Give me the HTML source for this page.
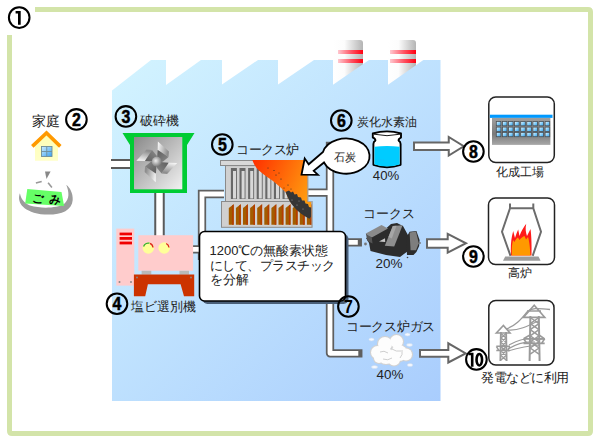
<!DOCTYPE html>
<html><head><meta charset="utf-8">
<style>
html,body{margin:0;padding:0;background:#fff;}
body{width:600px;height:443px;position:relative;overflow:hidden;font-family:"Liberation Sans",sans-serif;color:#222;}
svg{position:absolute;left:0;top:0;}
.t{position:absolute;font-size:13px;line-height:13px;white-space:nowrap;}
</style></head><body>
<svg width="600" height="443" viewBox="0 0 600 443">
<defs>
<linearGradient id="fac" x1="112" y1="60" x2="441" y2="401" gradientUnits="userSpaceOnUse">
<stop offset="0" stop-color="#d3f4ff"/><stop offset="1" stop-color="#a9cdfd"/></linearGradient>
<linearGradient id="chim" x1="0" y1="0" x2="1" y2="0">
<stop offset="0" stop-color="#fff"/><stop offset="0.38" stop-color="#fcfcfc"/><stop offset="1" stop-color="#b4b4b4"/></linearGradient>
<linearGradient id="stripe" x1="0" y1="0" x2="1" y2="0">
<stop offset="0" stop-color="#ffc8d0"/><stop offset="0.55" stop-color="#ff5060"/><stop offset="1" stop-color="#ff0010"/></linearGradient>
<linearGradient id="crg" x1="0" y1="0" x2="1" y2="1">
<stop offset="0" stop-color="#8a8a8a"/><stop offset="1" stop-color="#f2f2f2"/></linearGradient>
<linearGradient id="bladeL" x1="0" y1="0" x2="1" y2="0.3">
<stop offset="0" stop-color="#ffffff"/><stop offset="1" stop-color="#8e8e8e"/></linearGradient>
<linearGradient id="bladeD" x1="0" y1="0" x2="1" y2="1">
<stop offset="0" stop-color="#5c5c5c"/><stop offset="1" stop-color="#8a8a8a"/></linearGradient>
<radialGradient id="ball" cx="0.4" cy="0.4" r="0.6">
<stop offset="0" stop-color="#eee"/><stop offset="1" stop-color="#777"/></radialGradient>
<linearGradient id="fire" x1="253" y1="165" x2="311" y2="190" gradientUnits="userSpaceOnUse">
<stop offset="0" stop-color="#ff3300"/><stop offset="1" stop-color="#ff9c10"/></linearGradient>
<linearGradient id="bldg" x1="0" y1="0" x2="0" y2="1">
<stop offset="0" stop-color="#a0a0a0"/><stop offset="0.6" stop-color="#7a7a7a"/><stop offset="1" stop-color="#a8a8a8"/></linearGradient>
<linearGradient id="win" x1="0" y1="0" x2="1" y2="1">
<stop offset="0" stop-color="#cfefff"/><stop offset="1" stop-color="#3aa0f0"/></linearGradient>
<linearGradient id="house" x1="0" y1="0" x2="0" y2="1">
<stop offset="0" stop-color="#ffffb4"/><stop offset="1" stop-color="#ffffc8"/></linearGradient>
<linearGradient id="win2" x1="0" y1="0" x2="1" y2="1">
<stop offset="0" stop-color="#f0fbff"/><stop offset="0.45" stop-color="#8fd2fa"/><stop offset="1" stop-color="#2aa0ee"/></linearGradient>
</defs>
<!-- border -->
<path d="M35 9.5 H588 Q590.5 9.5 590.5 12 V431 Q590.5 433.5 588 433.5 H12 Q9.5 433.5 9.5 431 V35" fill="none" stroke="#d3e4a9" stroke-width="5"/>
<!-- chimneys -->
<path d="M333 40 H360 Q363 40 363 43 V90 H333 Z" fill="url(#chim)"/>
<rect x="338" y="50" width="25" height="4" fill="url(#stripe)"/>
<rect x="338" y="59" width="25" height="4" fill="url(#stripe)"/>
<path d="M388 40 H413 Q416 40 416 43 V90 H388 Z" fill="url(#chim)"/>
<rect x="390" y="50" width="26" height="4" fill="url(#stripe)"/>
<rect x="390" y="59" width="26" height="4" fill="url(#stripe)"/>
<!-- factory -->
<path d="M112 90.5 L151 60 H166 V85 L201 60 H222 V84.5 L258 60 H278 V84.5 L314 60 H333 V84.7 L369 60 H388 V84.7 L423.4 60 H440.5 V401 H112 Z" fill="url(#fac)"/>

<!-- pipes -->
<g fill="none" stroke-linejoin="miter" stroke-linecap="butt">
<path d="M111 164 H131" stroke="#5a5a5a" stroke-width="10"/>
<path d="M111 164 H131" stroke="#fff" stroke-width="6"/>
<path d="M159.5 190 V237" stroke="#5a5a5a" stroke-width="10.5"/>
<path d="M159.5 190 V237" stroke="#fff" stroke-width="6.5"/>
<path d="M224 194 H202 V260 M192 249.4 H202" stroke="#5f5f5f" stroke-width="8.3"/>
<path d="M224 194 H202 V260 M192 249.4 H202" stroke="#fff" stroke-width="4.8"/>
</g>
<g fill="none" stroke-linejoin="round">
<path d="M306 192.7 H330 M330 146 V353.3 H358.3 M340 242.4 H357.8" stroke="#5f5f5f" stroke-width="8.3" stroke-linecap="square"/>
<path d="M306 192.7 H330 M330 146 V353.3 H358.3 M340 242.4 H357.8" stroke="#fff" stroke-width="4.8" stroke-linecap="butt"/>
</g>

<!-- house -->
<path d="M35 143 L46.5 133 L58 143 V160.7 H35 Z" fill="url(#house)"/>
<path d="M32.3 146.4 L46.5 132.9 L60.3 146.4" fill="none" stroke="#ff9900" stroke-width="3.6"/>
<rect x="41.5" y="146.5" width="10.5" height="10" fill="url(#win)" stroke="#6f8e98" stroke-width="0.9"/>
<path d="M46.75 146.5 V156.5 M41.5 151.5 H52" stroke="#6f8e98" stroke-width="0.9"/>

<!-- garbage bag -->
<path d="M19.9 193.3 C17 201 21 211 40.7 214.2 C58 216 72 212 72.7 200 C73 193 70 188 66.3 184.8 C69 192 70 199 64 204 C57 208 42 209 30 205.5 C24 203 21 199 19.9 193.3 Z" fill="#9c9c9c"/>
<path d="M45 171.5 L50.6 171.5 L46.5 179 Z" fill="#888"/>
<path d="M35.9 183 L41.7 181.4 M48.1 182.7 L51.9 187.5" stroke="#999" stroke-width="1.6" fill="none"/>
<path d="M27.3 189.1 L61.5 192 L64.1 206.1 L25.2 203.5 Z" fill="#66ff66"/>
<!-- crusher -->
<path d="M122.5 133 H194.5 L187 145 V193 H130 V145 Z" fill="#00cc33"/>
<rect x="134" y="137" width="48.3" height="52.3" fill="url(#crg)"/>
<g transform="translate(156.8 161.8)">
<g id="bl"><path d="M1.1 -20.4 L12.2 -10.3 L11.7 -4.8 L0.9 -11.8 Z" fill="url(#bladeL)"/><path d="M0.9 -11.8 L11.7 -4.8 L6 0 L0 0 Z" fill="url(#bladeD)"/></g>
<use href="#bl" transform="rotate(90)"/>
<use href="#bl" transform="rotate(180)"/>
<use href="#bl" transform="rotate(270)"/>
<circle r="5" fill="url(#ball)"/>
</g>

<!-- PVC sorter -->
<rect x="116.3" y="228.6" width="18" height="57" fill="#ffcccc"/>
<rect x="119.6" y="232.6" width="12.4" height="2.7" fill="#f00000"/>
<rect x="119.6" y="237" width="12.4" height="2.8" fill="#f00000"/>
<rect x="119.6" y="241.6" width="12.4" height="2.8" fill="#f00000"/>
<circle cx="119.5" cy="282" r="1" fill="#888"/><circle cx="131" cy="282" r="1" fill="#888"/>
<rect x="138.3" y="235.2" width="54.8" height="35.6" fill="#ffcccc"/>
<circle cx="148.3" cy="248" r="5.8" fill="#ffff99"/>
<circle cx="164.2" cy="248" r="5.8" fill="#ffff99"/>
<path d="M143.6 246.5 A5 5 0 0 1 149.5 243.2" stroke="#33aa33" stroke-width="1.3" fill="none"/>
<path d="M150 243.3 A5 5 0 0 1 153 247.5" stroke="#dd2222" stroke-width="1.3" fill="none"/>
<path d="M166.2 243.5 A5 5 0 0 1 169 247.5" stroke="#dd2222" stroke-width="1.3" fill="none"/>
<rect x="141.6" y="270.8" width="9.7" height="3.8" fill="#b8b8b8"/>
<rect x="179.5" y="270.8" width="9.5" height="3.8" fill="#b8b8b8"/>
<path d="M133.9 274.6 H194.2 V296.3 H184 L180.6 284.3 H147.9 L145.2 296.3 H133.9 Z" fill="#cc3300"/>
<circle cx="137" cy="277.5" r="0.9" fill="#888"/><circle cx="191" cy="277.5" r="0.9" fill="#888"/>

<!-- coke oven -->
<rect x="221.5" y="201.5" width="90.5" height="25.8" fill="#d0d0d0" stroke="#8a8a8a" stroke-width="1"/>
<rect x="225.5" y="165.6" width="82" height="35.9" fill="#d0d0d0" stroke="#8a8a8a" stroke-width="1"/>
<rect x="220.5" y="160.5" width="84" height="5" fill="#d8d8d8" stroke="#8a8a8a" stroke-width="1"/>
<g>
<rect x="230.9" y="168" width="6" height="31" fill="#686868"/><rect x="233.0" y="171" width="3" height="27.5" fill="#d8d8d8"/>
<rect x="239.5" y="168" width="6" height="31" fill="#686868"/><rect x="241.6" y="171" width="3" height="27.5" fill="#d8d8d8"/>
<rect x="248.1" y="168" width="6" height="31" fill="#686868"/><rect x="250.2" y="171" width="3" height="27.5" fill="#d8d8d8"/>
<rect x="256.7" y="168" width="6" height="31" fill="#686868"/><rect x="258.8" y="171" width="3" height="27.5" fill="#d8d8d8"/>
<rect x="265.3" y="168" width="6" height="31" fill="#686868"/><rect x="267.4" y="171" width="3" height="27.5" fill="#d8d8d8"/>
<rect x="273.9" y="168" width="6" height="31" fill="#686868"/><rect x="276.0" y="171" width="3" height="27.5" fill="#d8d8d8"/>
<rect x="282.5" y="168" width="6" height="31" fill="#686868"/><rect x="284.6" y="171" width="3" height="27.5" fill="#d8d8d8"/>
<rect x="291.1" y="168" width="6" height="31" fill="#686868"/><rect x="293.2" y="171" width="3" height="27.5" fill="#d8d8d8"/>
<rect x="299.7" y="168" width="6" height="31" fill="#686868"/><rect x="301.8" y="171" width="3" height="27.5" fill="#d8d8d8"/>
</g>
<g>
<path d="M228.8 208 L233.7 204.2 V224.8 H228.8 Z" fill="#a35c00"/><path d="M232.1 205.4 L233.7 204.2 V224.8 H232.1 Z" fill="#b53c00"/>
<path d="M235.9 208 L240.8 204.2 V224.8 H235.9 Z" fill="#a35c00"/><path d="M239.2 205.4 L240.8 204.2 V224.8 H239.2 Z" fill="#b53c00"/>
<path d="M243.0 208 L247.9 204.2 V224.8 H243.0 Z" fill="#a35c00"/><path d="M246.3 205.4 L247.9 204.2 V224.8 H246.3 Z" fill="#b53c00"/>
<path d="M250.1 208 L255.0 204.2 V224.8 H250.1 Z" fill="#a35c00"/><path d="M253.4 205.4 L255.0 204.2 V224.8 H253.4 Z" fill="#b53c00"/>
<path d="M257.2 208 L262.1 204.2 V224.8 H257.2 Z" fill="#a35c00"/><path d="M260.5 205.4 L262.1 204.2 V224.8 H260.5 Z" fill="#b53c00"/>
<path d="M264.3 208 L269.2 204.2 V224.8 H264.3 Z" fill="#a35c00"/><path d="M267.6 205.4 L269.2 204.2 V224.8 H267.6 Z" fill="#b53c00"/>
<path d="M271.4 208 L276.3 204.2 V224.8 H271.4 Z" fill="#a35c00"/><path d="M274.7 205.4 L276.3 204.2 V224.8 H274.7 Z" fill="#b53c00"/>
<path d="M278.5 208 L283.4 204.2 V224.8 H278.5 Z" fill="#a35c00"/><path d="M281.8 205.4 L283.4 204.2 V224.8 H281.8 Z" fill="#b53c00"/>
<path d="M285.6 208 L290.5 204.2 V224.8 H285.6 Z" fill="#a35c00"/><path d="M288.9 205.4 L290.5 204.2 V224.8 H288.9 Z" fill="#b53c00"/>
<path d="M292.7 208 L297.6 204.2 V224.8 H292.7 Z" fill="#a35c00"/><path d="M296.0 205.4 L297.6 204.2 V224.8 H296.0 Z" fill="#b53c00"/>
<path d="M299.8 208 L304.7 204.2 V224.8 H299.8 Z" fill="#a35c00"/><path d="M303.1 205.4 L304.7 204.2 V224.8 H303.1 Z" fill="#b53c00"/>
<path d="M306.9 208 L311.8 204.2 V224.8 H306.9 Z" fill="#a35c00"/><path d="M310.2 205.4 L311.8 204.2 V224.8 H310.2 Z" fill="#b53c00"/>
</g>
<path d="M252.4 160 H304.6 V165.6 H307.5 V201.8 H311.2 V216.5 L309 218 C303 214 296 209 291 203 C289 200 287 196 286 192.5 C283 189.5 279 186 273 181 C266 176 260 172 256.5 168 C255 166 254 164 253.1 161.9 Z" fill="url(#fire)"/>
<path d="M285.5 192 L289 190.5 L291 192.5 L293 191.5 L294.5 194.5 L297 194 L298 197 L301 197.5 L302 200.5 L304.5 200.5 L305.5 203.5 L308 204 L309 207 L311.2 207.5 V216.5 L309.5 218.8 C304 216 298 212 294 207 C290 203 288 198 285.5 192 Z" fill="#363636"/>
<path d="M308 166 V201.5 H312 V227.3" fill="none" stroke="#a8a8a8" stroke-width="1"/>
<g fill="#2a2a2a"><circle cx="274" cy="170.5" r="0.6"/><circle cx="276" cy="175" r="0.6"/><circle cx="279" cy="173" r="0.5"/><circle cx="281" cy="179" r="0.6"/><circle cx="288" cy="185" r="0.6"/><circle cx="284" cy="188" r="0.5"/><circle cx="291" cy="189" r="0.5"/><circle cx="268" cy="168" r="0.5"/></g>
<g fill="#9a9a9a"><circle cx="292" cy="200" r="0.6"/><circle cx="297" cy="205" r="0.6"/><circle cx="303" cy="209" r="0.6"/><circle cx="299" cy="201" r="0.5"/></g>

<!-- bubble + arrow -->
<path d="M323 152 A23.6 17.6 0 1 1 324 162.5 L313.7 170.8 L318 174.9 L301.5 174.7 L304.7 158.6 L308.7 164.3 Z" fill="#fff" stroke="#000" stroke-width="1.8" stroke-linejoin="miter"/>

<!-- jar -->
<path d="M372.8 133.5 Q387 129.3 401 133.5 V137.6 Q398.6 138.4 398.6 140.6 Q400.6 141.6 400.6 144 V164.8 Q387 169.6 373.4 164.8 V144 Q373.4 141.6 375.4 140.6 Q375.4 138.4 372.8 137.6 Z" fill="#fff" stroke="#000" stroke-width="1.9" stroke-linejoin="round"/>
<path d="M374.5 146.8 Q387 145.2 399.6 146.8 V164.4 Q387 168.6 374.4 164.4 Z" fill="#00ccff"/>
<path d="M374 134.2 Q387 137.2 400 134.2" fill="none" stroke="#000" stroke-width="0.9"/>
<path d="M377 149 H397 M378 160 H384" stroke="#33aaee" stroke-width="0.6" stroke-dasharray="1 1.5"/>

<!-- text box -->
<rect x="202.5" y="234" width="146" height="70" rx="5" fill="#4a5f78"/>
<rect x="199.5" y="231.5" width="146" height="69.5" rx="5" fill="#fff" stroke="#000" stroke-width="1.6"/>

<!-- coke lump -->
<g>
<path d="M366 238 L369 243 L370.5 251 L386 255 L400 257 L408 251 L409 237 L403 226 L397 223 L391 224 L386 228.5 L375 235 Z" fill="#2c2c2c"/>
<path d="M365.8 233.4 L381.5 225 L388 228.4 L371.8 237.6 Z" fill="#8a8a8a"/>
<path d="M365.8 233.4 L371.8 237.6 L372.5 243.5 L367.5 241 Z" fill="#555"/>
<path d="M384.8 245.8 L392.8 226 L402.6 225.2 L394.2 246.6 Z" fill="#8e8e8e"/>
<path d="M388.5 237 L392.8 226 L396.5 225.7 L391.8 238.5 Z" fill="#a6a6a6"/>
<path d="M379 241.5 L385 238.3 L385.2 242 Z" fill="#c8c8c8"/>
<path d="M406 238 L409.6 231.8 L416.4 231 L419.6 240 L419.2 246 L416.4 252 L413.5 255 L407 255 Z" fill="#2c2c2c"/>
<path d="M409.6 232.4 L416 231.4 L418.8 243.2 L416 250.2 L410.6 250.2 Z" fill="#7e7e7e"/>
<circle cx="365.5" cy="244" r="1.4" fill="#777"/>
<circle cx="420" cy="243" r="0.9" fill="#777"/>
<circle cx="407.5" cy="257.5" r="0.8" fill="#444"/>
</g>

<!-- cloud -->
<g fill="#d2d2d2"><circle cx="396.5" cy="341.5" r="7.6"/><circle cx="385" cy="344" r="8.1"/><circle cx="377.5" cy="352.5" r="7.6"/><circle cx="386" cy="356" r="9.1"/><circle cx="399" cy="353" r="9.1"/><circle cx="406" cy="354.5" r="7.1"/><circle cx="394" cy="359.5" r="7.1"/><circle cx="379" cy="358" r="6.1"/></g>
<g fill="#fdfdfd"><circle cx="396.5" cy="341.5" r="6.5"/><circle cx="385" cy="344" r="7"/><circle cx="377.5" cy="352.5" r="6.5"/><circle cx="386" cy="356" r="8"/><circle cx="399" cy="353" r="8"/><circle cx="406" cy="354.5" r="6"/><circle cx="394" cy="359.5" r="6"/><circle cx="379" cy="358" r="5"/></g>
<path d="M380 352 Q384 350 388 353 M392 349 Q396 352 401 351 M383 359 Q388 361 392 358 M400 358 Q403 355 402 350" fill="none" stroke="#c8c8c8" stroke-width="0.9"/>
<g fill="#f4f8ff" stroke="#d0ddee" stroke-width="0.6"><ellipse cx="371.5" cy="339.5" rx="2.6" ry="1.4"/><ellipse cx="407.5" cy="334.5" rx="2.6" ry="1.5"/><ellipse cx="409.5" cy="345" rx="3" ry="1.4"/><ellipse cx="374.5" cy="367" rx="3" ry="1.5"/><ellipse cx="410" cy="365" rx="2.8" ry="1.5"/></g>

<!-- arrows -->
<g fill="#fff" stroke="#666" stroke-width="2" stroke-linejoin="miter">
<path d="M414 142.5 H448.75 V137 L463.75 146.25 L448.75 155.5 V150 H414 Z"/>
<path d="M427 239.2 H447.7 V233.8 L466 243.25 L447.7 252.7 V247.75 H427 Z"/>
<path d="M420 350 H448.3 V343.3 L465.7 353.5 L448.3 362.5 V356.7 H420 Z"/>
</g>

<!-- icon boxes -->
<g fill="#fff" stroke="#222" stroke-width="1.5">
<rect x="488.8" y="97" width="65.5" height="65.5" rx="7"/>
<rect x="488.5" y="198" width="66" height="66.5" rx="7"/>
<rect x="488.8" y="300.5" width="65.2" height="64.6" rx="7"/>
</g>
<!-- chemical plant -->
<rect x="489.9" y="114.7" width="62.6" height="3.2" fill="#0099ff"/>
<rect x="492" y="117.9" width="58.4" height="27" fill="url(#bldg)"/>
<g id="winrow">
<rect x="496.3" y="121.5" width="4.6" height="4.3" fill="url(#win2)" stroke="#4a5258" stroke-width="0.8"/>
<rect x="502.4" y="121.5" width="4.6" height="4.3" fill="url(#win2)" stroke="#4a5258" stroke-width="0.8"/>
<rect x="508.5" y="121.5" width="4.6" height="4.3" fill="url(#win2)" stroke="#4a5258" stroke-width="0.8"/>
<rect x="514.6" y="121.5" width="4.6" height="4.3" fill="url(#win2)" stroke="#4a5258" stroke-width="0.8"/>
<rect x="520.7" y="121.5" width="4.6" height="4.3" fill="url(#win2)" stroke="#4a5258" stroke-width="0.8"/>
<rect x="526.8" y="121.5" width="4.6" height="4.3" fill="url(#win2)" stroke="#4a5258" stroke-width="0.8"/>
<rect x="532.9" y="121.5" width="4.6" height="4.3" fill="url(#win2)" stroke="#4a5258" stroke-width="0.8"/>
<rect x="539.0" y="121.5" width="4.6" height="4.3" fill="url(#win2)" stroke="#4a5258" stroke-width="0.8"/>
<rect x="545.1" y="121.5" width="4.6" height="4.3" fill="url(#win2)" stroke="#4a5258" stroke-width="0.8"/>
</g>
<use href="#winrow" y="5.6"/>
<use href="#winrow" y="10.9"/>

<!-- blast furnace -->
<path d="M510 203.6 V208.2 H533.3 V203.6 M510 208.2 L502 231.8 L510.5 255.8 M533.3 208.2 L541 231.8 L532.7 255.8" fill="none" stroke="#6c6c6c" stroke-width="2"/>
<path d="M505.2 256.4 H538.5 L540.6 260.7 H503 Z" fill="#9c9c9c"/>
<path d="M511 255.6 C510.5 248 511 241 512 236 L513.2 231 L515 238 C516 235 517 232 518.2 229.6 L519.5 236 C521 231 524 227 526.2 223.8 C525 229 526 233 527 236 L528.5 233 L530.5 228.9 C531.5 236 531.8 246 531.5 255.6 Z" fill="#ff1a1a"/>
<path d="M511.8 255.6 C511.5 249 512 244 513 240 L514.5 242 C515.5 239.5 517 238 518 237.5 L519.5 240 C521 238 523 236.5 524.5 236 L526 239.5 L528 237 C529 240 530 246 530.5 255.6 Z" fill="#ff9900"/>

<!-- pylons -->
<g fill="none" stroke="#9a9a9a" stroke-linejoin="miter">
<path d="M529.6 361 L530.4 316 M538.8 316 L539.6 361" stroke-width="2"/>
<path d="M523.5 317.3 L534.2 305.2 L544.7 317.3 Z M527 311 H541" stroke-width="1.7"/>
<path d="M523.5 338.8 H544.7 M523.5 343.4 H544.7 M523.5 338.8 L527 343.4 M544.7 338.8 L541.5 343.4 M530 335 L523.5 338.8 M539 335 L544.7 338.8" stroke-width="1.6"/>
<path d="M530.2 317.5 L539 323.6 M539 317.5 L530.2 323.6 M530.2 323.6 L539 329.7 M539 323.6 L530.2 329.7 M530.2 329.7 L539 335.8 M539 329.7 L530.2 335.8 M530.2 335.8 L539 341.9 M539 335.8 L530.2 341.9 M530.2 341.9 L539 348.0 M539 341.9 L530.2 348.0 M530.2 348.0 L539 354.1 M539 348.0 L530.2 354.1 " stroke-width="1.5"/>
<path d="M500.4 361 L500.9 332 M506.1 332 L506.6 361" stroke-width="1.9"/>
<path d="M496.3 333 L503.4 325.5 L510 333 Z" stroke-width="1.6"/>
<path d="M496.3 346.3 H510 M496.3 350.6 H510 M496.3 346.3 L499 350.6 M510 346.3 L507.5 350.6" stroke-width="1.5"/>
<path d="M501 333.5 L506 337.9 M506 333.5 L501 337.9 M501 337.9 L506 342.3 M506 337.9 L501 342.3 M501 342.3 L506 346.7 M506 342.3 L501 346.7 M501 346.7 L506 351.1 M506 346.7 L501 351.1 M501 351.1 L506 355.5 M506 351.1 L501 355.5 M501 355.5 L506 359.9 M506 355.5 L501 359.9 " stroke-width="1.3"/>
<path d="M506 329 C516 326 522 318 527 312 C531 308 537 308 550 309.5" stroke-width="1.3"/>
<path d="M508 330 C518 331 528 326 538 321" stroke-width="1.1"/>
<path d="M509 345 C515 342 520 339 527 339 C533 339 538 340 545 339" stroke-width="1.1"/>
<path d="M508 349 C516 344 524 341 535 342" stroke-width="1.1"/>
<path d="M508 351 C518 348 526 346 540 345" stroke-width="1.1"/>
</g>

<!-- circled numbers -->
<path d="M468.6 352.8 H473.5 V366.7 H470.9 V355.3 H468.6 Z" fill="#000"/>
<ellipse cx="479.3" cy="359.7" rx="2.75" ry="5.75" fill="none" stroke="#000" stroke-width="2.6"/>
<path d="M15.6 10.9 H20.7 V24.7 H18 V13.4 H15.6 Z" fill="#000"/>
<g fill="none" stroke="#000" stroke-width="2.05">
<circle cx="19.2" cy="17.6" r="10.3"/>
<circle cx="76.4" cy="119.4" r="10.3"/>
<circle cx="125.9" cy="116.4" r="10.3"/>
<circle cx="117" cy="303.7" r="10.3"/>
<circle cx="222.3" cy="144.5" r="10.3"/>
<circle cx="341.3" cy="120.5" r="10.3"/>
<circle cx="348.4" cy="306.5" r="10.3"/>
<circle cx="473.4" cy="151.5" r="10.3"/>
<circle cx="473.4" cy="256.5" r="10.3"/>
<circle cx="476.4" cy="359.4" r="10.3"/>
</g>
<g font-family="Liberation Sans" font-weight="bold" font-size="18.5" text-anchor="middle" fill="#000" stroke="#000" stroke-width="0.5">
<text transform="translate(76.4 126.15) scale(0.86 1)">2</text>
<text transform="translate(125.9 123.15) scale(0.86 1)">3</text>
<text transform="translate(117 310.45) scale(0.86 1)">4</text>
<text transform="translate(222.3 151.25) scale(0.86 1)">5</text>
<text transform="translate(341.3 127.25) scale(0.86 1)">6</text>
<text transform="translate(348.4 313.25) scale(0.86 1)" stroke-width="0">7</text>
<text transform="translate(473.4 158.25) scale(0.86 1)">8</text>
<text transform="translate(473.4 263.25) scale(0.86 1)">9</text>
</g>
</svg>


<div class="t" style="left:32.0px;top:114.3px;font-size:14.48px;line-height:14.48px;">家庭</div>
<div class="t" style="left:140.4px;top:114.7px;font-size:12.78px;line-height:12.78px;">破砕機</div>
<div class="t" style="left:236px;top:143.6px;font-size:12.5px;line-height:12.5px;letter-spacing:-0.45px;">コークス炉</div>
<div class="t" style="left:356.9px;top:116.0px;font-size:12.28px;line-height:12.28px;">炭化水素油</div>
<div class="t" style="left:334.0px;top:152.0px;font-size:10.7px;line-height:10.7px;">石炭</div>
<div class="t" style="left:372.8px;top:169.17px;font-size:13.2px;line-height:13.2px;">40%</div>
<div class="t" style="left:496.2px;top:165.73px;font-size:12.25px;line-height:12.25px;">化成工場</div>
<div class="t" style="left:363.4px;top:206.9px;font-size:13.0px;line-height:13.0px;">コークス</div>
<div class="t" style="left:375.5px;top:257.23px;font-size:13.45px;line-height:13.45px;">20%</div>
<div class="t" style="left:508.3px;top:267.3px;font-size:12.2px;line-height:12.2px;">高炉</div>
<div class="t" style="left:209.5px;top:244px;line-height:14.5px;">1200℃の無酸素状態<br><span style="letter-spacing:-0.5px">にして、プラスチック</span><br>を分解</div>
<div class="t" style="left:131.0px;top:299.63px;font-size:13.22px;line-height:13.22px;">塩ビ選別機</div>
<div class="t" style="left:346px;top:320.8px;font-size:12.5px;line-height:12.5px;letter-spacing:-0.3px;">コークス炉ガス</div>
<div class="t" style="left:376.5px;top:367.92px;font-size:13.4px;line-height:13.4px;">40%</div>
<div class="t" style="left:481.1px;top:372px;font-size:12.5px;line-height:12.5px;letter-spacing:-0.47px;">発電などに利用</div>
<div class="t" style="left:31.5px;top:194px;font-size:11.5px;line-height:11.5px;font-weight:bold;color:#000;letter-spacing:5.5px;transform:rotate(3deg);">ごみ</div>
</body></html>
